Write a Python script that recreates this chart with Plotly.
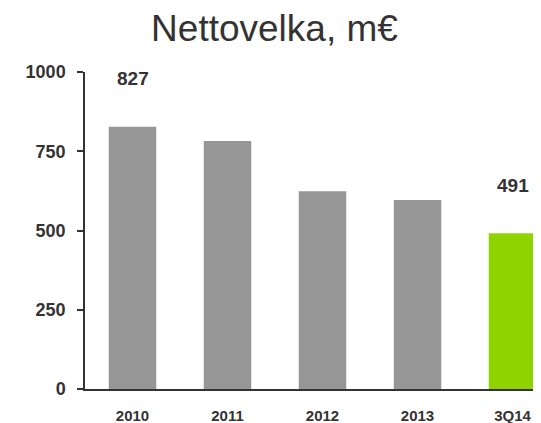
import plotly.graph_objects as go

categories = ["2010", "2011", "2012", "2013", "3Q14"]
values = [827, 782, 624, 596, 491]
bar_colors = ["#969696", "#969696", "#969696", "#969696", "#8fd400"]
labeled = ["2010", "3Q14"]
y_ticks = [0, 250, 500, 750, 1000]

font_family = "Liberation Sans, Arial, sans-serif"
dark = "#333333"

fig = go.Figure()
fig.add_trace(go.Bar(
    x=categories, y=values,
    marker=dict(color=bar_colors, line=dict(width=0)),
    hoverinfo="skip",
))

for i, (c, v) in enumerate(zip(categories, values)):
    if c in labeled:
        fig.add_annotation(
            x=i, y=v, xref="x", yref="y", text=str(v), showarrow=False,
            yanchor="middle", yshift=48,
            font=dict(family=font_family, size=19, color=dark, weight="bold"),
        )

fig.update_layout(
    width=533, height=415,
    margin=dict(l=77, r=0, t=64, b=34),
    paper_bgcolor="white", plot_bgcolor="white",
    bargap=0.5,
    showlegend=False,
    title=dict(
        text="Nettovelka, m€", x=0.5, xanchor="center", xref="container",
        y=0.952, yanchor="middle", yref="container",
        font=dict(family=font_family, size=37, color=dark),
    ),
    xaxis=dict(
        type="category",
        range=[-0.5, 4.3], showgrid=False, showline=True, linecolor=dark,
        linewidth=1.5, ticks="", ticklabelstandoff=12,
        tickfont=dict(family=font_family, size=15, color=dark, weight="bold"),
    ),
    yaxis=dict(
        range=[0, 1000], tickvals=y_ticks, showgrid=False, zeroline=False,
        showline=True, linecolor=dark, linewidth=1.5, ticks="outside",
        ticklen=6, tickcolor=dark, tickwidth=1.5, ticklabelstandoff=8,
        tickfont=dict(family=font_family, size=18, color=dark, weight="bold"),
    ),
)

fig.write_html("out.html")
